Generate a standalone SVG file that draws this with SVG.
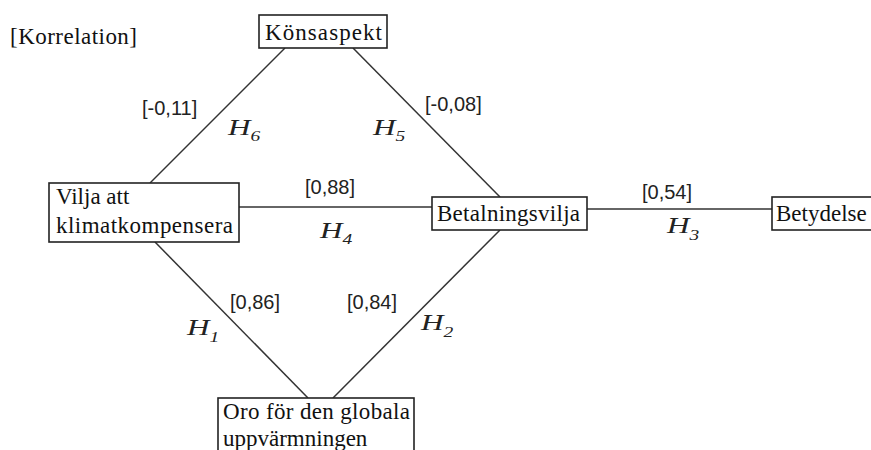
<svg xmlns="http://www.w3.org/2000/svg" width="871" height="450" viewBox="0 0 871 450">
<style>
.box{fill:#fff;stroke:#222;stroke-width:1.6}
.lbl{font-family:"Liberation Serif","Times New Roman",serif;font-size:23px;fill:#111}
.num{font-family:"Liberation Sans",Arial,sans-serif;font-size:20px;fill:#222}
.h{font-family:"Liberation Serif","Times New Roman",serif;font-style:italic;font-size:24px;fill:#222}
.sub{font-size:15px}
.edge{stroke:#333;stroke-width:1.5;fill:none}
</style>
<rect width="871" height="450" fill="#fff"/>
<text class="lbl" x="10" y="44" textLength="127">[Korrelation]</text>
<g id="connectors">
<line class="edge" x1="285" y1="48" x2="150" y2="183"/>
<line class="edge" x1="353" y1="48" x2="500" y2="197"/>
<line class="edge" x1="239" y1="207" x2="432" y2="207"/>
<line class="edge" x1="587" y1="209" x2="772" y2="209"/>
<line class="edge" x1="155" y1="242" x2="308" y2="398"/>
<line class="edge" x1="500" y1="230" x2="333" y2="398"/>
<text class="num" x="142" y="115">[-0,11]</text>
<text class="h" transform="translate(228 135) scale(1.3 1)">H<tspan class="sub" dx="0" dy="6">6</tspan></text>
<text class="h" transform="translate(373 135) scale(1.3 1)">H<tspan class="sub" dx="0" dy="6">5</tspan></text>
<text class="num" x="425" y="111">[-0,08]</text>
<text class="num" x="305" y="194">[0,88]</text>
<text class="h" transform="translate(320 238) scale(1.3 1)">H<tspan class="sub" dx="0" dy="6">4</tspan></text>
<text class="num" x="642" y="199">[0,54]</text>
<text class="h" transform="translate(667 233) scale(1.3 1)">H<tspan class="sub" dx="0" dy="7">3</tspan></text>
<text class="num" x="230" y="309">[0,86]</text>
<text class="num" x="347" y="309">[0,84]</text>
<text class="h" transform="translate(187 335) scale(1.3 1)">H<tspan class="sub" dx="0" dy="7">1</tspan></text>
<text class="h" transform="translate(421 330) scale(1.3 1)">H<tspan class="sub" dx="0" dy="7">2</tspan></text>
</g>
<g id="konsaspekt">
<rect class="box" x="259" y="15" width="128" height="33"/>
<text class="lbl" x="265" y="40" textLength="117">Könsaspekt</text>
</g>
<g id="vilja">
<rect class="box" x="49" y="183" width="190" height="59"/>
<text class="lbl" x="56" y="204">Vilja att</text>
<text class="lbl" x="56" y="233" textLength="177">klimatkompensera</text>
</g>
<g id="betalningsvilja">
<rect class="box" x="432" y="197" width="155" height="33"/>
<text class="lbl" x="437" y="221" textLength="143">Betalningsvilja</text>
</g>
<g id="betydelse">
<rect class="box" x="772" y="197" width="110" height="33"/>
<text class="lbl" x="776" y="221">Betydelse</text>
</g>
<g id="oro">
<rect class="box" x="218" y="398" width="196" height="60"/>
<text class="lbl" x="223" y="419" textLength="187">Oro för den globala</text>
<text class="lbl" x="223" y="446">uppvärmningen</text>
</g>
</svg>
